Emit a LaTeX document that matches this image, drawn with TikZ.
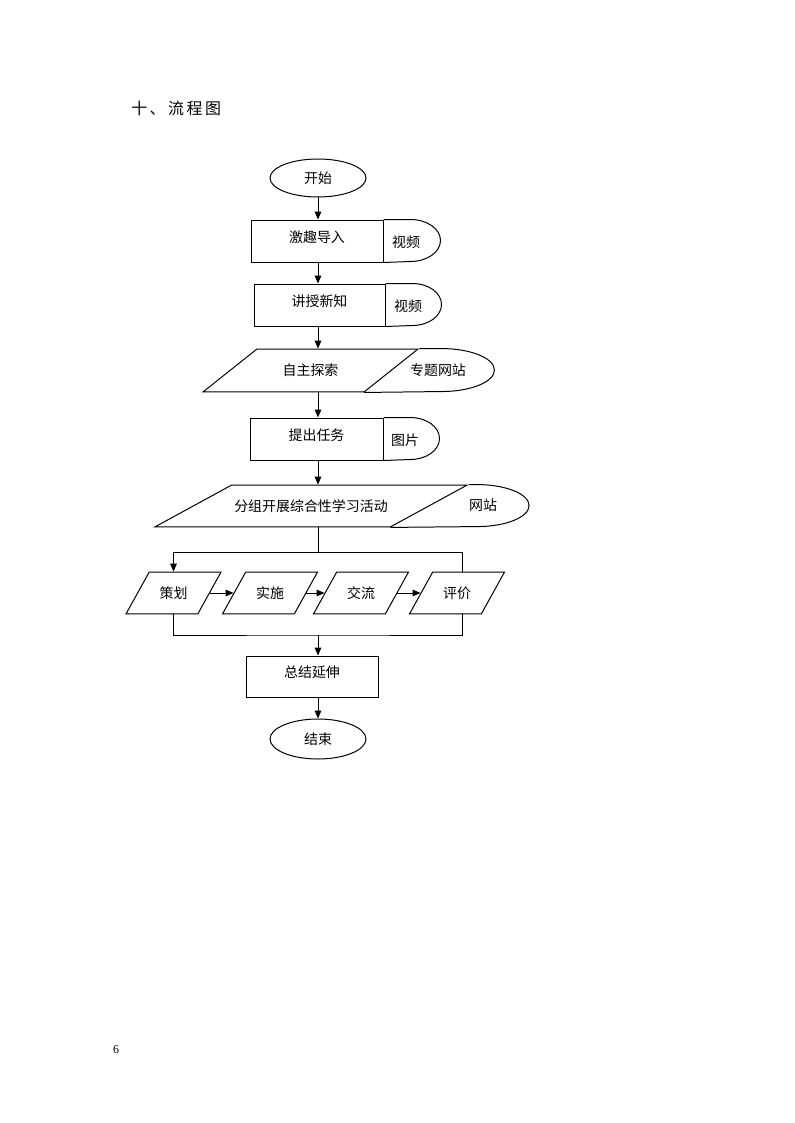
\documentclass[tikz,border=0pt]{standalone}
\usepackage{fontspec}
\setmainfont{Noto Sans CJK SC}
\newfontfamily\numfont{Liberation Serif}
\usetikzlibrary{
    arrows.meta,
    calc,
    positioning,
    shapes.geometric,
    backgrounds
}
\definecolor{ink}{RGB}{0,0,0}
\def\pxl{0.26458mm}
\tikzset{
    line join=miter,
    terminal/.style={
        ellipse,
        draw=ink,
        line width=0.75pt,
        minimum width=96*\pxl,
        minimum height=38*\pxl,
        inner sep=0pt,
        text=ink
    },
    stepbox/.style={
        rectangle,
        draw=ink,
        line width=0.75pt,
        minimum width=132*\pxl,
        minimum height=42*\pxl,
        text height=10pt,
        text depth=8pt,
        inner sep=0pt,
        text=ink
    },
    iobox/.style={
        trapezium,
        trapezium stretches body,
        draw=ink,
        line width=0.75pt,
        text height=9.25pt,
        text depth=1.25pt,
        inner xsep=2pt,
        inner ysep=10.5pt,
        text=ink
    },
    smallio/.style={
        iobox,
        trapezium left angle=61,
        trapezium right angle=119,
        minimum width=95*\pxl
    },
    flowarrow/.style={
        -{Triangle[length=6pt,width=5pt]},
        draw=ink,
        line width=0.75pt
    },
    flowline/.style={
        -,
        draw=ink,
        line width=0.75pt
    },
    annot/.style={
        text=ink,
        inner sep=0pt
    },
    paneltitle/.style={
        font=\fontsize{12}{14}\selectfont\addfontfeature{LetterSpace=16},
        text=ink,
        inner sep=0pt
    },
    pagenum/.style={
        font=\numfont\fontsize{9}{10}\selectfont,
        text=ink,
        inner sep=0pt
    }
}

\begin{document}
\begin{tikzpicture}[
    x=\pxl, y=\pxl,
    every node/.style={font=\fontsize{10.5}{12}\selectfont},
    show background rectangle,
    background rectangle/.style={fill=white}
]
\useasboundingbox (0,0) rectangle (794,-1123);

\node[paneltitle, anchor=west] (title) at (131,-108) {十、流程图};

% main column
\coordinate (axis) at (318,0);
\node[terminal] (start) at (318,-178) {开始};
\node[stepbox] (intro) at (317,-241) {激趣导入};
\node[stepbox, minimum width=131*\pxl] (teach) at (319.5,-305) {讲授新知};
\node[iobox, trapezium left angle=38.5, trapezium right angle=141.5,
      inner ysep=10.9pt, minimum width=215*\pxl] (explore) at (310.5,-370.5) {自主探索};
\node[stepbox, minimum width=133*\pxl] (task) at (316.5,-439) {提出任务};
\node[iobox, trapezium left angle=28.6, trapezium right angle=151.4,
      minimum width=312*\pxl] (group) at (311,-506) {分组开展综合性学习活动};

% activity row
\node[smallio] (plan) at (173.5,-593) {策划};
\node[smallio] (act) at (270,-593) {实施};
\node[smallio] (share) at (361,-593) {交流};
\node[smallio] (review) at (457,-593) {评价};

\node[stepbox, minimum height=41*\pxl] (summary) at (312,-676.5) {总结延伸};
\node[terminal, minimum height=40*\pxl] (finish) at (318,-739) {结束};

% media attached to the steps
\draw[flowline] (intro.north east) -- ++(27,0)
    arc[start angle=90, end angle=-90, x radius=30, y radius=21] -- (intro.south east);
\node[annot] (introvid) at (406,-242) {视频};
\draw[flowline] (teach.north east) -- ++(27,0)
    arc[start angle=90, end angle=-90, x radius=29, y radius=21] -- (teach.south east);
\node[annot] (teachvid) at (408,-306) {视频};
\draw[flowline] (task.north east) -- ++(27,0)
    arc[start angle=90, end angle=-90, x radius=29, y radius=21] -- (task.south east);
\node[annot] (taskpic) at (405,-440) {图片};
\draw[flowline] (explore.top right corner) -- ++(22,0)
    arc[start angle=90, end angle=-90, x radius=53, y radius=21.5] -- (explore.bottom right corner);
\node[annot] (exploresite) at (438,-370) {专题网站};
\draw[flowline] (group.top right corner) -- ++(8,0)
    arc[start angle=90, end angle=-90, x radius=52, y radius=21] -- (group.bottom right corner);
\node[annot] (groupsite) at (483,-505) {网站};

% connectors
\foreach \a/\b in {start/intro, intro/teach, teach/explore, explore/task, task/group, summary/finish}
    \draw[flowarrow] (axis |- \a.south) -- (axis |- \b.north);

\coordinate (split) at (318,-552);
\coordinate (merge) at (318,-635);
\draw[flowline] (axis |- group.south) -- (split);
\draw[flowarrow] (split) -| (plan.north);
\draw[flowline] (split) -| ([xshift=5*\pxl]review.north);
\foreach \a/\b in {plan/act, act/share, share/review}
    \draw[flowarrow] (\a.east) -- (\b.west);
\draw[flowline] (plan.south) |- (merge) -| ([xshift=5*\pxl]review.south);
\draw[flowarrow] (merge) -- (axis |- summary.north);

\node[pagenum] (pageno) at (116,-1050) {6};
\end{tikzpicture}
\end{document}
